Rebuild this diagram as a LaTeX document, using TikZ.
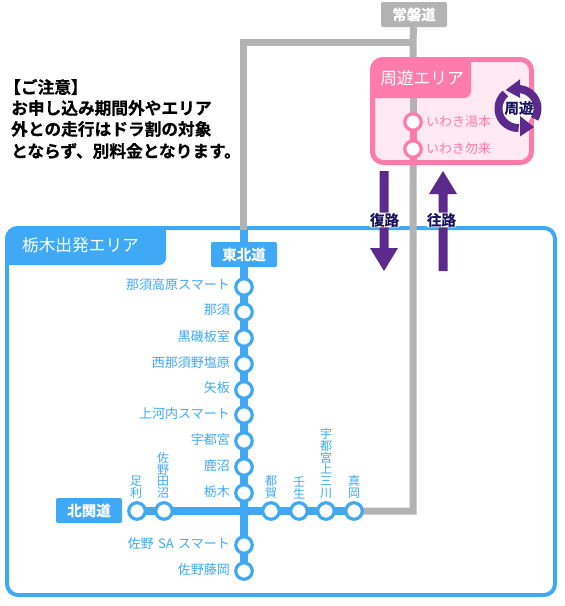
\documentclass[tikz,border=0pt]{standalone}
\usepackage{fontspec}
\setmainfont{Noto Sans CJK JP}
\newfontfamily\jpb[FakeBold=0.6]{Noto Sans CJK JP Bold}
\usetikzlibrary{backgrounds}
\definecolor{bl}{HTML}{3FA9F5}
\definecolor{gr}{HTML}{B3B3B3}
\definecolor{pk}{HTML}{FF7BAC}
\definecolor{pkl}{HTML}{FFE9F3}
\definecolor{pu}{HTML}{5B2A8C}
\definecolor{nv}{HTML}{1B1464}
\tikzset{
 grayline/.style={draw=gr,line width=7pt},
 blueline/.style={draw=bl,line width=7.5pt},
 stn/.style={circle,draw=bl,fill=white,line width=3.2pt,minimum size=16.5pt,inner sep=0pt},
 pstn/.style={circle,draw=pk,fill=white,line width=3.2pt,minimum size=16.5pt,inner sep=0pt},
 slabel/.style={text=bl,font=\fontsize{13}{13}\selectfont,anchor=east,inner sep=0pt},
 plabel/.style={text=pk,font=\fontsize{13}{14}\selectfont,anchor=west,inner sep=0pt},
 vlabel/.style={text=bl,font=\fontsize{12}{11.9}\selectfont,anchor=south,align=center,inner sep=0pt},
 roadbox/.style={rounded corners=2pt,minimum height=25pt,minimum width=66pt,inner sep=0pt,text=white,font=\jpb\fontsize{14.5}{15}\selectfont},
 tabtext/.style={text=white,font=\fontsize{16.7}{17}\selectfont,inner sep=0pt},
 dirlabel/.style={text=nv,font=\jpb\fontsize{14.5}{15}\selectfont,fill=white,rounded corners=2pt,inner sep=0.6pt},
 note/.style={font=\jpb\fontsize{16.7}{17}\selectfont,anchor=west,inner sep=0pt,text=black},
 looparc/.style={draw=pu,line width=8pt}
}
\begin{document}
\begin{tikzpicture}[x=1pt,y=-1pt]
\useasboundingbox (0,0) rectangle (565,606);
\begin{scope}[on background layer]
\fill[white] (0,0) rectangle (565,606);
\end{scope}
% blue area
\draw[bl,line width=4pt,rounded corners=11pt] (7,228) rectangle (555,595);
\fill[bl] (5,239) arc[start angle=180,end angle=270,radius=13] -- (166,226) -- (166,258) arc[start angle=0,end angle=90,radius=7] -- (5,265) -- cycle;
\node[tabtext] (bluetab) at (80.5,245.5) {栃木出発エリア};
% gray lines
\coordinate (g1) at (243,42);
\coordinate (g2) at (413,42);
\coordinate (g3) at (413,511);
\coordinate (g4) at (354,511);
\coordinate (g5) at (243,230);
\draw[grayline] (g5) -- (g1) -- (g2);
\node[roadbox,fill=gr] (joban) at (414,14.5) {常磐道};
\draw[grayline] (joban) -- (g2) -- (g3) -- (g4);
% pink area
\draw[pk,line width=5pt,fill=pkl,rounded corners=11pt] (372.5,59.5) rectangle (531.5,162.5);
\fill[gr] (409.5,90) rectangle (416.5,113);
\fill[pk] (409.5,122) rectangle (416.5,163);
\node[pstn] (yumoto) at (413,122) {};
\node[pstn] (nakoso) at (413,149) {};
\fill[pk] (370,70) arc[start angle=180,end angle=270,radius=13] -- (471,57) -- (471,91) arc[start angle=0,end angle=90,radius=7] -- (370,98) -- cycle;
\node[tabtext] (pinktab) at (422,78) {周遊エリア};
\node[plabel] (lyumoto) at (426,122) {いわき湯本};
\node[plabel] (lnakoso) at (426,149) {いわき勿来};
% loop
\begin{scope}[shift={(518,108.5)},y=1pt]
\fill[white] (0,0) circle (16);
\draw[looparc] (95:19.5) arc[start angle=95,end angle=-32,radius=19.5];
\fill[pu] (2,29.2) -- (-12.3,18.5) -- (2,10.5) -- cycle;
\draw[looparc] (130:19.5) arc[start angle=130,end angle=272,radius=19.5];
\fill[pu] (2,-7.5) -- (16,-18.5) -- (2,-28) -- cycle;
\end{scope}
\node[text=nv,font=\jpb\fontsize{14.5}{15}\selectfont,inner sep=0pt] (loop) at (519,108) {周遊};
% blue stations
\node[stn] (s1) at (244,287) {};
\node[stn] (s2) at (244,312) {};
\node[stn] (s3) at (244,338) {};
\node[stn] (s4) at (244,364) {};
\node[stn] (s5) at (244,390) {};
\node[stn] (s6) at (244,415) {};
\node[stn] (s7) at (244,441) {};
\node[stn] (s8) at (244,467) {};
\node[stn] (s9) at (244,493) {};
\node[stn] (s10) at (244,545) {};
\node[stn] (s11) at (244,571) {};
\node[stn] (h1) at (137,511) {};
\node[stn] (h2) at (164,511) {};
\node[stn] (h3) at (271,511) {};
\node[stn] (h4) at (299,511) {};
\node[stn] (h5) at (326,511) {};
\node[stn] (h6) at (354,511) {};
\coordinate (b0) at (244,228);
\begin{scope}[on background layer]
\draw[blueline] (b0) -- (s1.center) -- (s11.center);
\draw[blueline] (h1.center) -- (h6.center);
\end{scope}
\node[roadbox,fill=bl] (tohoku) at (244,254.5) {東北道};
\node[roadbox,fill=bl] (kitakan) at (89,510.5) {北関道};
\node[slabel] (t1) at (230,285) {那須高原スマート};
\node[slabel] (t2) at (230,310) {那須};
\node[slabel] (t3) at (230,337) {黒磯板室};
\node[slabel] (t4) at (230,363) {西那須野塩原};
\node[slabel] (t5) at (230,388) {矢板};
\node[slabel] (t6) at (230,414) {上河内スマート};
\node[slabel] (t7) at (230,440) {宇都宮};
\node[slabel] (t8) at (230,466) {鹿沼};
\node[slabel] (t9) at (230,492) {栃木};
\node[slabel] (t10) at (230,544) {佐野\hspace{1.5pt} SA\hspace{1.5pt} スマート};
\node[slabel] (t11) at (230,570) {佐野藤岡};
\node[vlabel] (v1) at (136,499) {足\\利};
\node[vlabel] (v2) at (163,499) {佐\\野\\田\\沼};
\node[vlabel] (v3) at (271,499) {都\\賀};
\node[vlabel] (v4) at (299,499) {壬\\生};
\node[vlabel] (v5) at (326,499) {宇\\都\\宮\\上\\三\\川};
\node[vlabel] (v6) at (354,499) {真\\岡};
% direction arrows
\fill[pu] (379.5,171) -- (388.5,171) -- (388.5,248) -- (398,248) -- (384,271) -- (370,248) -- (379.5,248) -- cycle;
\fill[pu] (438.5,271) -- (447.5,271) -- (447.5,194) -- (457,194) -- (443,171) -- (429,194) -- (438.5,194) -- cycle;
\node[dirlabel] (fuku) at (384.5,220) {復路};
\node[dirlabel] (ou) at (441.5,220) {往路};
% note
\node[note] (n1) at (4,87) {【ご注意】};
\node[note] (n2) at (11,108) {お申し込み期間外やエリア};
\node[note] (n3) at (11,129) {外との走行はドラ割の対象};
\node[note] (n4) at (11,151) {とならず、別料金となります。};
\end{tikzpicture}
\end{document}
